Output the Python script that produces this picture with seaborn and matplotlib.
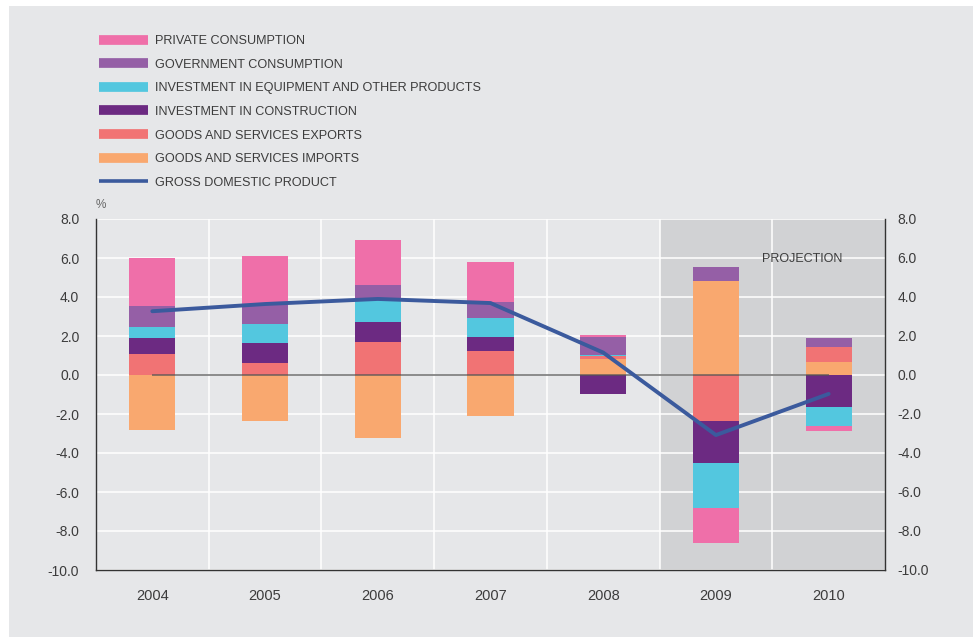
import numpy as np
import pandas as pd
import matplotlib
matplotlib.use("Agg")
import matplotlib.pyplot as plt
from matplotlib.lines import Line2D
from matplotlib.patches import Rectangle
import seaborn as sns

# values (contribution to growth, %)
years = ["2004", "2005", "2006", "2007", "2008", "2009", "2010"]
private = [2.46, 2.51, 2.30, 2.05, 0.10, -1.80, -0.25]
government = [1.08, 0.97, 0.77, 0.82, 0.93, 0.72, 0.46]
equipment = [0.56, 0.98, 1.13, 0.97, 0.05, -2.31, -0.98]
construction = [0.82, 1.02, 1.03, 0.72, -0.96, -2.15, -1.64]
exports = [1.08, 0.62, 1.69, 1.23, 0.16, -2.36, 0.77]
imports = [-2.82, -2.36, -3.23, -2.10, 0.82, 4.82, 0.67]
gdp = [3.27, 3.64, 3.90, 3.69, 1.15, -3.08, -0.97]

legend_labels = ["PRIVATE CONSUMPTION", "GOVERNMENT CONSUMPTION",
                 "INVESTMENT IN EQUIPMENT AND OTHER PRODUCTS",
                 "INVESTMENT IN CONSTRUCTION", "GOODS AND SERVICES EXPORTS",
                 "GOODS AND SERVICES IMPORTS", "GROSS DOMESTIC PRODUCT"]

c_private = "#ef6fa9"
c_gov = "#955fa6"
c_equip = "#53c7df"
c_constr = "#6c2a82"
c_exports = "#f17374"
c_imports = "#f9a86f"
c_gdp = "#3b5a9d"
bg = "#e6e7e9"
shade = "#d1d2d4"
txt = "#3c3c3c"

sns.set_style("white")
plt.rcParams["font.family"] = ["Liberation Sans", "DejaVu Sans"]

fig = plt.figure(figsize=(9.73, 6.37), dpi=100, facecolor="white")
fig.patches.append(Rectangle((9 / 973, 0), 1, 1 - 6 / 637, transform=fig.transFigure,
                             facecolor=bg, edgecolor="none", zorder=-10))
ax = fig.add_axes([96 / 973, 1 - 570 / 637, 789 / 973, 351 / 637])
ax.set_facecolor(bg)

pos = np.arange(len(years))

# stacking order from the zero line outwards
layers = [(imports, c_imports), (exports, c_exports), (construction, c_constr),
          (equipment, c_equip), (government, c_gov), (private, c_private)]
vals = np.array([l[0] for l in layers])
cum_pos = np.cumsum(np.clip(vals, 0, None), axis=0)
cum_neg = np.cumsum(np.clip(vals, None, 0), axis=0)

# draw outermost first, inner layers cover them
for k in range(len(layers) - 1, -1, -1):
    color = layers[k][1]
    for tops in (cum_pos[k], cum_neg[k]):
        df = pd.DataFrame({"x": pos, "y": tops})
        sns.barplot(data=df, x="x", y="y", native_scale=True, width=0.41,
                    color=color, saturation=1, errorbar=None, linewidth=0,
                    ax=ax, zorder=3)

ax.hlines(0, pos[0], pos[-1], color="#555555", lw=1.1, alpha=0.85, zorder=4)
sns.lineplot(x=pos, y=gdp, color=c_gdp, lw=2.8, ax=ax, zorder=5)

ax.axvspan(4.5, 6.5, color=shade, lw=0, zorder=0.2)
ax.text(5.41, 5.95, "PROJECTION", fontsize=9, color=txt, va="center", ha="left", zorder=6)

ax.set_xlim(-0.5, 6.5)
ax.set_ylim(-10, 8)
yt = np.arange(-10, 8.1, 2)
ax.set_yticks(yt)
ax.set_yticklabels([f"{v:.1f}" for v in yt])
ax.set_xticks(pos)
ax.set_xticklabels(years)
ax.set_xticks(pos[:-1] + 0.5, minor=True)
ax.set_xlabel("")
ax.set_ylabel("")
ax.set_axisbelow(True)
ax.grid(True, axis="y", which="major", color="white", lw=1.1)
ax.grid(True, axis="x", which="minor", color="white", lw=1.1)
ax.grid(False, axis="x", which="major")
ax.tick_params(axis="both", which="both", length=0)
ax.tick_params(axis="y", labelsize=10, labelcolor=txt, pad=12)
ax.tick_params(axis="x", labelsize=10.5, labelcolor=txt, pad=14)

for s in ["left", "right", "bottom"]:
    ax.spines[s].set_visible(True)
    ax.spines[s].set_color("#333333")
    ax.spines[s].set_linewidth(1)
ax.spines["top"].set_visible(False)

ax2 = ax.twinx()
ax2.set_ylim(ax.get_ylim())
ax2.set_yticks(yt)
ax2.set_yticklabels([f"{v:.1f}" for v in yt])
ax2.tick_params(axis="y", length=0, labelsize=10, labelcolor=txt, pad=9)
for s in ax2.spines.values():
    s.set_visible(False)

fig.text(101 / 973, 1 - 205 / 637, "%", fontsize=8.5, color="#666666", ha="center", va="center")

handles = [Line2D([], [], color=c, lw=7, solid_capstyle="butt")
           for c in [c_private, c_gov, c_equip, c_constr, c_exports, c_imports]]
handles.append(Line2D([], [], color=c_gdp, lw=2.6, solid_capstyle="butt"))
fig.legend(handles, legend_labels, loc="upper left", bbox_to_anchor=(99 / 973, 1 - 35 / 637),
           frameon=False, fontsize=9.1, handlelength=3.85, handletextpad=0.55,
           labelspacing=0.92, borderpad=0, borderaxespad=0, labelcolor=txt)

fig.savefig("out.png", dpi=100, facecolor=fig.get_facecolor())
